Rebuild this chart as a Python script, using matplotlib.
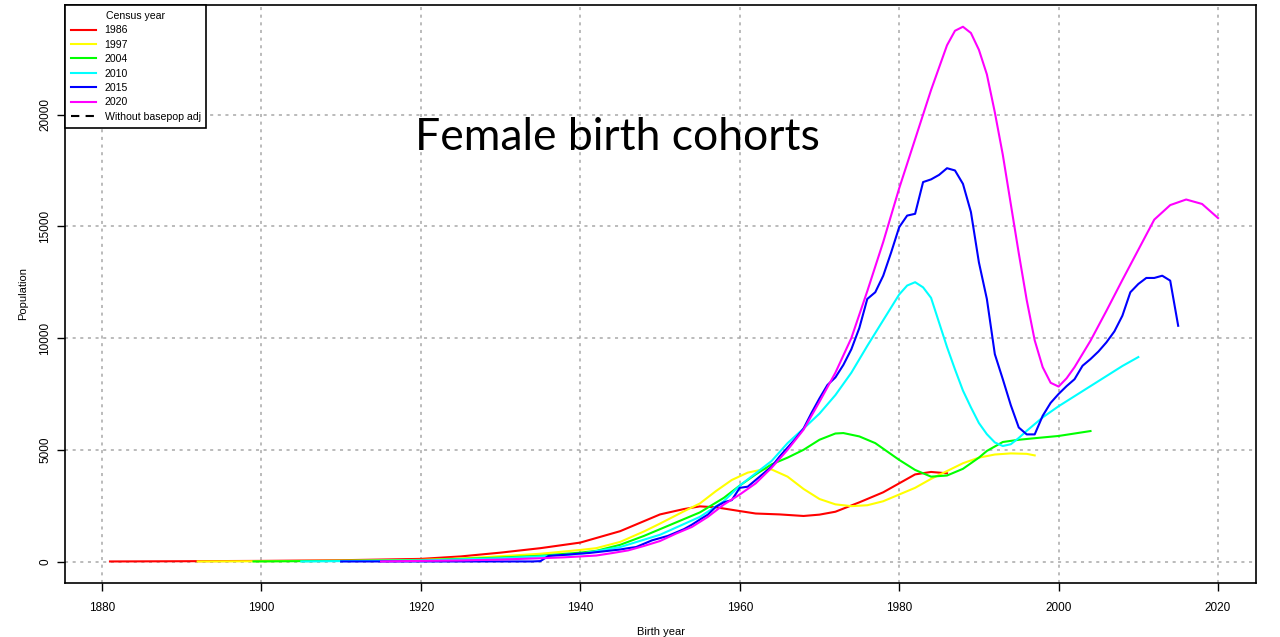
import matplotlib
matplotlib.use("Agg")
import matplotlib.pyplot as plt

plt.rcParams['font.family'] = ['Liberation Sans', 'DejaVu Sans']

# census year -> (birth years, population)
yr_1986 = [1881, 1890, 1900, 1910, 1920, 1925, 1930, 1935, 1940, 1945, 1950, 1953, 1955, 1957,
           1960, 1962, 1965, 1968, 1970, 1972, 1975, 1978, 1980, 1982, 1984, 1986]
pop_1986 = [5, 15, 30, 60, 120, 230, 400, 600, 850, 1360, 2110, 2350, 2470, 2430,
            2260, 2150, 2110, 2040, 2100, 2230, 2650, 3100, 3500, 3900, 4010, 3950]

yr_1997 = [1892, 1900, 1910, 1920, 1925, 1930, 1935, 1940, 1942, 1945, 1948, 1950, 1953, 1955,
           1957, 1959, 1961, 1963, 1964, 1966, 1968, 1970, 1972, 1974, 1976, 1978, 1980, 1982,
           1984, 1986, 1988, 1990, 1992, 1994, 1996, 1997]
pop_1997 = [5, 15, 40, 75, 140, 240, 350, 520, 600, 880, 1350, 1700, 2250, 2600,
            3150, 3650, 3980, 4130, 4120, 3800, 3250, 2800, 2560, 2480, 2520, 2700, 3000, 3300,
            3700, 4050, 4400, 4650, 4790, 4840, 4820, 4750]

yr_2004 = [1899, 1910, 1920, 1930, 1935, 1940, 1942, 1945, 1948, 1950, 1953, 1955, 1958, 1960,
           1962, 1964, 1966, 1968, 1970, 1972, 1973, 1975, 1977, 1980, 1982, 1984, 1986, 1988,
           1990, 1991, 1993, 1995, 1997, 2000, 2004]
pop_2004 = [5, 30, 60, 180, 260, 400, 480, 750, 1150, 1450, 1900, 2200, 2850, 3400,
            3900, 4350, 4650, 5000, 5450, 5730, 5750, 5600, 5300, 4550, 4100, 3800, 3850, 4150,
            4650, 4950, 5350, 5450, 5520, 5620, 5840]

yr_2010 = [1905, 1910, 1920, 1930, 1935, 1940, 1945, 1950, 1955, 1958, 1960, 1962, 1964, 1966,
           1968, 1970, 1972, 1974, 1976, 1978, 1980, 1981, 1982, 1983, 1984, 1985, 1986, 1987,
           1988, 1989, 1990, 1991, 1992, 1993, 1994, 1995, 1996, 1998, 2000, 2002, 2004, 2006,
           2008, 2010]
pop_2010 = [5, 20, 50, 150, 230, 340, 650, 1200, 2000, 2700, 3400, 3950, 4500, 5300,
            5950, 6620, 7450, 8450, 9650, 10800, 11950, 12350, 12500, 12270, 11800, 10700, 9600, 8600,
            7650, 6900, 6200, 5700, 5330, 5170, 5250, 5530, 5850, 6450, 6950, 7400, 7850, 8300,
            8750, 9150]

yr_2015 = list(range(1910, 2016))
pop_2015 = [5] * 25 + [
    20, 250, 280, 300, 330, 360, 380, 420, 460, 500,
    540, 600, 650, 800, 950, 1050, 1150, 1300, 1450, 1650,
    1880, 2100, 2450, 2650, 2750, 3300, 3350, 3650, 3950, 4250,
    4700, 5100, 5500, 5950, 6650, 7300, 7900, 8240, 8800, 9500,
    10450, 11750, 12050, 12790, 13840, 14960, 15480, 15560, 16980, 17100,
    17300, 17600, 17500, 16900, 15640, 13390, 11750, 9280, 8160, 7000,
    6000, 5690, 5690, 6520, 7100, 7500, 7850, 8160, 8760, 9060,
    9400, 9810, 10300, 11000, 12050, 12420, 12690, 12690, 12790, 12570,
    10550]

yr_2020 = [1915, 1920, 1925, 1930, 1935, 1938, 1940, 1942, 1944, 1946, 1948, 1950, 1952, 1954,
           1956, 1958, 1960, 1962, 1964, 1966, 1968, 1970, 1972, 1974, 1976, 1978, 1980, 1982,
           1984, 1986, 1987, 1988, 1989, 1990, 1991, 1992, 1993, 1994, 1995, 1996, 1997, 1998,
           1999, 2000, 2001, 2002, 2004, 2006, 2008, 2010, 2012, 2014, 2016, 2018, 2020]
pop_2020 = [5, 30, 50, 90, 150, 190, 230, 270, 380, 500, 700, 920, 1250, 1550,
            2000, 2550, 3000, 3500, 4200, 5000, 5900, 7150, 8450, 10000, 12100, 14300, 16700, 18900,
            21100, 23100, 23750, 23930, 23650, 22900, 21800, 20100, 18200, 16000, 13800, 11700, 9900, 8700,
            8000, 7830, 8200, 8700, 9880, 11220, 12600, 13950, 15300, 15950, 16200, 16000, 15370]

series = [("1986", yr_1986, pop_1986, "#ff0000"),
          ("1997", yr_1997, pop_1997, "#ffff00"),
          ("2004", yr_2004, pop_2004, "#00ff00"),
          ("2010", yr_2010, pop_2010, "#00ffff"),
          ("2015", yr_2015, pop_2015, "#0000ff"),
          ("2020", yr_2020, pop_2020, "#ff00ff")]

fig = plt.figure(figsize=(12.8, 6.37), dpi=100)
ax = fig.add_axes([0.0508, 0.0848, 0.9305, 0.9074])

for label, x, y, col in series:
    ax.plot(x, y, color=col, lw=1.5, label=label)
ax.plot([], [], color="black", lw=1.5, ls=(0, (4, 3)), label="Without basepop adj")

ax.set_xlim(1875.36, 2024.77)
ax.set_ylim(-958, 24904)
ax.set_xticks(range(1880, 2021, 20))
ax.set_yticks(range(0, 20001, 5000))
ax.grid(True, color="#a8a8a8", ls=(0, (2, 3)), lw=1.1)

ax.tick_params(direction="out", length=6, width=1, labelsize=8.5, pad=8)
ax.tick_params(axis="y", labelrotation=90, pad=4)
for lab in ax.get_yticklabels():
    lab.set_va("center")
for s in ax.spines.values():
    s.set_linewidth(1.2)

ax.set_xlabel("Birth year", fontsize=8, labelpad=9)
ax.set_ylabel("Population", fontsize=8, labelpad=8)

ax.text(0.4635, 0.77, "Female birth cohorts", transform=ax.transAxes,
        ha="center", va="center", fontsize=32, family=["Lato", "DejaVu Sans"])

leg = ax.legend(loc="upper left", title="Census year", fontsize=7.6, title_fontsize=7.6,
                fancybox=False, framealpha=1, edgecolor="black", borderaxespad=0,
                handlelength=2.4, labelspacing=0.42, borderpad=0.55)
leg.get_frame().set_linewidth(1.2)

fig.savefig("out.png", dpi=100)
